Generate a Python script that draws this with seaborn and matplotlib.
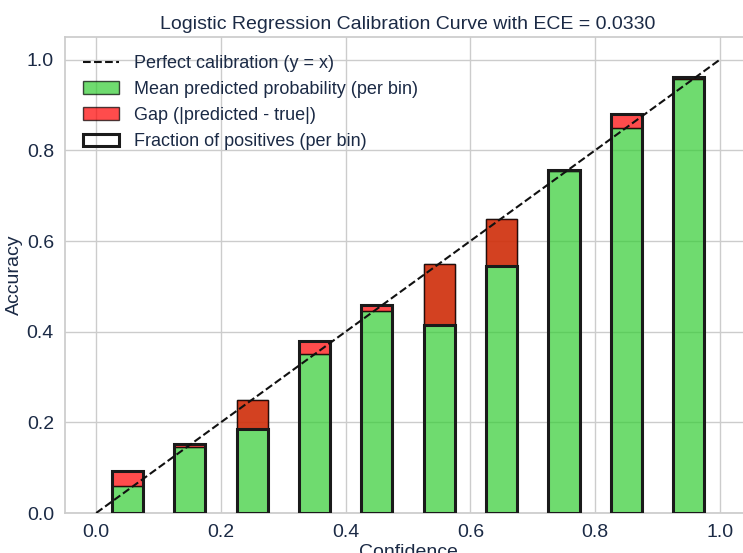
import numpy as np
import pandas as pd
import matplotlib
matplotlib.use("Agg")
import matplotlib.pyplot as plt
import seaborn as sns

bin_centers = [0.05, 0.15, 0.25, 0.35, 0.45, 0.55, 0.65, 0.75, 0.85, 0.95]
mean_predicted = [0.060, 0.145, 0.250, 0.350, 0.445, 0.550, 0.648, 0.755, 0.850, 0.958]
frac_positives = [0.092, 0.152, 0.185, 0.380, 0.458, 0.415, 0.545, 0.757, 0.880, 0.962]
ece_value = 0.0330
x_ticks = [0.0, 0.2, 0.4, 0.6, 0.8, 1.0]
y_ticks = [0.0, 0.2, 0.4, 0.6, 0.8, 1.0]

sns.set_theme(style="whitegrid")
text_color = "#1b2a45"
plt.rcParams["font.family"] = ["Liberation Sans", "DejaVu Sans"]
plt.rcParams["text.color"] = text_color
plt.rcParams["axes.labelcolor"] = text_color
plt.rcParams["xtick.color"] = text_color
plt.rcParams["ytick.color"] = text_color

fig = plt.figure(figsize=(7.43, 5.53), dpi=100)
ax = fig.add_axes([65 / 743, 40 / 553, 686 / 743, 476 / 553])

width = 0.05
centers = np.array(bin_centers)
conf = np.array(mean_predicted)
acc = np.array(frac_positives)

ax.plot([0, 1], [0, 1], linestyle="--", color="#111111", linewidth=1.5,
        label="Perfect calibration (y = x)", zorder=5)

ax.bar(centers, conf, width=width, color="limegreen", alpha=0.7,
       edgecolor="black", linewidth=1.0, label="Mean predicted probability (per bin)", zorder=2)

gap_bottom = np.minimum(conf, acc)
gap_height = np.abs(conf - acc)
ax.bar(centers, gap_height, bottom=gap_bottom, width=width, color="red", alpha=0.7,
       edgecolor="black", linewidth=1.0, label="Gap (|predicted - true|)", zorder=3)

ax.bar(centers, acc, width=width, fill=False, edgecolor="#1a1a1a", linewidth=2.2,
       label="Fraction of positives (per bin)", zorder=4)

ax.set_xlim(-0.05, 1.05)
ax.set_ylim(0, 1.05)
ax.set_xticks(x_ticks)
ax.set_yticks(y_ticks)
ax.tick_params(labelsize=14, pad=2)
ax.set_xlabel("Confidence", fontsize=14, labelpad=2)
ax.set_ylabel("Accuracy", fontsize=14, labelpad=3)
ax.set_title(f"Logistic Regression Calibration Curve with ECE = {ece_value:.4f}", fontsize=14)
for s in ax.spines.values():
    s.set_color("#cccccc")

ax.legend(loc="upper left", fontsize=13, frameon=False, borderaxespad=0.6)

fig.savefig("out.png", dpi=100)
